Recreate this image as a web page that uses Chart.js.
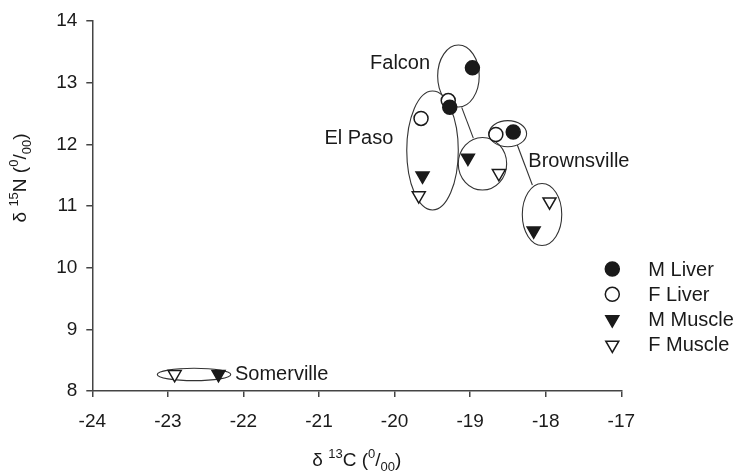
<!DOCTYPE html>
<html><head><meta charset="utf-8">
<script src="https://cdn.jsdelivr.net/npm/chart.js@4.4.1/dist/chart.umd.min.js"></script>
<style>html,body{margin:0;padding:0;background:#fff;}canvas{display:block;}</style>
</head><body>
<canvas id="c" width="736" height="472"></canvas>
<script>
// ---- data ----
const sites = ['Falcon', 'El Paso', 'Brownsville', 'Somerville'];
const seriesNames = ['M Liver', 'F Liver', 'M Muscle', 'F Muscle'];
const mLiverX = [-18.97, -19.27, -18.43];
const mLiverY = [13.24, 12.60, 12.20];
const fLiverX = [-19.29, -19.65, -18.66];
const fLiverY = [12.71, 12.42, 12.16];
const mMuscleX = [-19.03, -19.63, -18.16, -22.33];
const mMuscleY = [11.78, 11.49, 10.60, 8.27];
const fMuscleX = [-18.62, -19.68, -17.95, -22.91];
const fMuscleY = [11.53, 11.17, 11.07, 8.27];
const xTicks = [-24, -23, -22, -21, -20, -19, -18, -17];
const yTicks = [8, 9, 10, 11, 12, 13, 14];
// group ellipses (data units): centre and half extents
const ellCX = [-19.155, -19.498, -18.837, -18.502, -18.049, -22.654];
const ellCY = [13.108, 11.90, 11.686, 12.173, 10.862, 8.268];
const ellRX = [0.275, 0.341, 0.32, 0.249, 0.261, 0.486];
const ellRY = [0.503, 0.965, 0.426, 0.211, 0.503, 0.10];
// liver-to-muscle connectors (data units)
const linkX1 = [-19.112, -18.376];
const linkY1 = [12.60, 11.989];
const linkX2 = [-18.958, -18.177];
const linkY2 = [12.10, 11.341];
// site label anchors (data units)
const siteLabelX = [-19.53, -20.017, -18.23, -22.112];
const siteLabelY = [13.31, 12.098, 11.72, 8.27];

const FONT = '"Liberation Sans", Arial, Helvetica, sans-serif';
const INK = '#1a1a1a';
const toPts = (xs, ys) => xs.map((x, i) => ({x: x, y: ys[i]}));

const markerStyles = [
  {pointStyle: 'circle', fill: INK, radius: 7, rotation: 0},
  {pointStyle: 'circle', fill: '#ffffff', radius: 7, rotation: 0},
  {pointStyle: 'triangle', fill: INK, radius: 7.5, rotation: 180},
  {pointStyle: 'triangle', fill: '#ffffff', radius: 7.5, rotation: 180}
];
const seriesData = [toPts(mLiverX, mLiverY), toPts(fLiverX, fLiverY), toPts(mMuscleX, mMuscleY), toPts(fMuscleX, fMuscleY)];

const datasets = seriesNames.map((n, i) => ({
  label: n,
  data: seriesData[i],
  pointStyle: markerStyles[i].pointStyle,
  rotation: markerStyles[i].rotation,
  pointRadius: markerStyles[i].radius,
  backgroundColor: markerStyles[i].fill,
  borderColor: INK,
  borderWidth: 1.5,
  showLine: false
}));

function drawRich(ctx, parts, size) {
  const small = Math.round(size * 0.68);
  let w = 0;
  parts.forEach(p => { ctx.font = (p[1] ? small : size) + 'px ' + FONT; w += ctx.measureText(p[0]).width; });
  let x = -w / 2;
  parts.forEach(p => {
    ctx.font = (p[1] ? small : size) + 'px ' + FONT;
    const dy = p[1] === 'sup' ? -size * 0.42 : (p[1] === 'sub' ? size * 0.28 : 0);
    ctx.fillText(p[0], x, dy);
    x += ctx.measureText(p[0]).width;
  });
}

const overlay = {
  id: 'overlay',
  beforeDatasetsDraw(chart) {
    const {ctx, scales: {x, y}} = chart;
    ctx.save();
    ctx.strokeStyle = '#333';
    ctx.lineWidth = 1.1;
    ellCX.forEach((cx, i) => {
      const px = x.getPixelForValue(cx), py = y.getPixelForValue(ellCY[i]);
      const rx = Math.abs(x.getPixelForValue(cx + ellRX[i]) - px);
      const ry = Math.abs(y.getPixelForValue(ellCY[i] + ellRY[i]) - py);
      ctx.beginPath();
      ctx.ellipse(px, py, rx, ry, 0, 0, Math.PI * 2);
      ctx.stroke();
    });
    linkX1.forEach((lx, i) => {
      ctx.beginPath();
      ctx.moveTo(x.getPixelForValue(lx), y.getPixelForValue(linkY1[i]));
      ctx.lineTo(x.getPixelForValue(linkX2[i]), y.getPixelForValue(linkY2[i]));
      ctx.stroke();
    });
    ctx.restore();
  },
  afterDraw(chart) {
    const {ctx, chartArea, scales: {x, y}} = chart;
    ctx.save();
    ctx.fillStyle = INK;
    ctx.textBaseline = 'middle';
    ctx.font = '20px ' + FONT;
    sites.forEach((s, i) => {
      ctx.textAlign = (i === 0 || i === 1) ? 'right' : 'left';
      ctx.fillText(s, x.getPixelForValue(siteLabelX[i]), y.getPixelForValue(siteLabelY[i]));
    });
    // legend
    const lx = chartArea.right - 9;
    const ly0 = chartArea.top + 248;
    ctx.textAlign = 'left';
    seriesNames.forEach((n, i) => {
      const yy = ly0 + i * 25.3;
      ctx.fillStyle = markerStyles[i].fill;
      ctx.strokeStyle = INK;
      ctx.lineWidth = 1.5;
      Chart.helpers.drawPoint(ctx, {pointStyle: markerStyles[i].pointStyle, radius: markerStyles[i].radius, rotation: markerStyles[i].rotation, borderWidth: 1.5}, lx, yy);
      ctx.fillStyle = INK;
      ctx.font = '20px ' + FONT;
      ctx.fillText(n, lx + 36, yy + 1);
    });
    // axis titles
    ctx.textAlign = 'left';
    ctx.textBaseline = 'alphabetic';
    ctx.save();
    ctx.translate((chartArea.left + chartArea.right) / 2, 466);
    drawRich(ctx, [['δ ', null], ['13', 'sup'], ['C (', null], ['0', 'sup'], ['/', null], ['00', 'sub'], [')', null]], 19);
    ctx.restore();
    ctx.save();
    ctx.translate(26, 178);
    ctx.rotate(-Math.PI / 2);
    drawRich(ctx, [['δ ', null], ['15', 'sup'], ['N (', null], ['0', 'sup'], ['/', null], ['00', 'sub'], [')', null]], 19);
    ctx.restore();
    ctx.restore();
  }
};

const axisCommon = {
  grid: {display: true, drawOnChartArea: false, drawTicks: true, tickLength: 6, color: '#444', lineWidth: 1.5},
  border: {display: true, color: '#444', width: 1.5}
};

new Chart(document.getElementById('c'), {
  type: 'scatter',
  data: {datasets: datasets},
  options: {
    responsive: false,
    devicePixelRatio: 1,
    animation: false,
    events: [],
    layout: {padding: {left: 0, top: 21, right: 114.7, bottom: 0}},
    plugins: {legend: {display: false}, tooltip: {enabled: false}, title: {display: false}},
    scales: {
      x: Object.assign({
        type: 'linear', position: 'bottom', min: -24, max: -17,
        afterBuildTicks: s => { s.ticks = xTicks.map(v => ({value: v})); },
        afterFit: s => { s.height = 81; },
        ticks: {color: INK, font: {family: FONT, size: 19}, padding: 13, maxRotation: 0, autoSkip: false}
      }, axisCommon),
      y: Object.assign({
        type: 'linear', position: 'left', min: 8, max: 14,
        afterBuildTicks: s => { s.ticks = yTicks.map(v => ({value: v})); },
        afterFit: s => { s.width = 92.3; },
        ticks: {color: INK, font: {family: FONT, size: 19}, padding: 9, autoSkip: false}
      }, axisCommon)
    }
  },
  plugins: [overlay]
});
</script>
</body></html>
